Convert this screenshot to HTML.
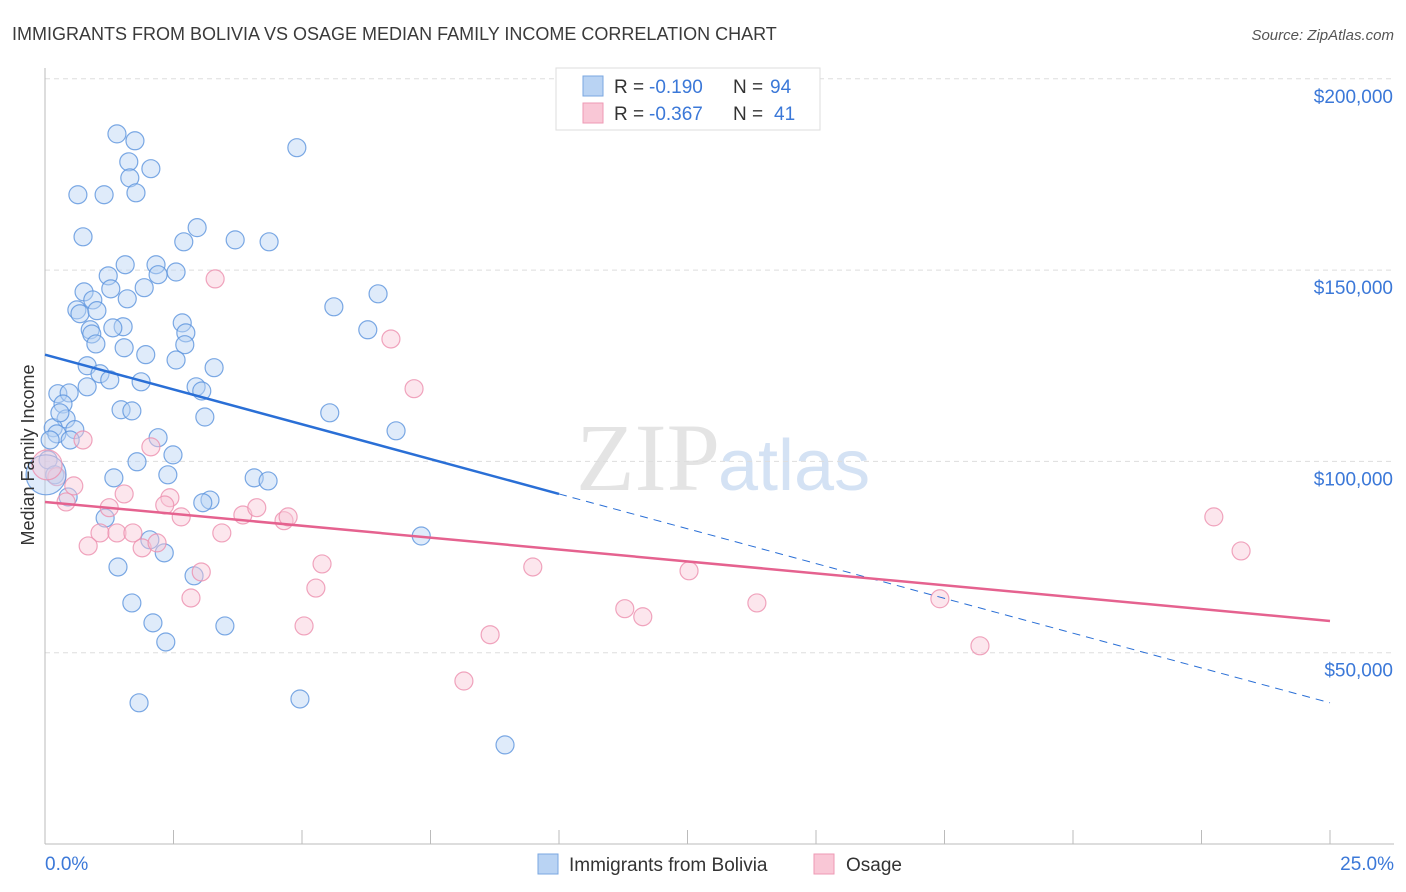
<!DOCTYPE html>
<html><head><meta charset="utf-8"><style>
body{margin:0;background:#fff;font-family:"Liberation Sans",sans-serif;}
svg{display:block}
</style></head><body>
<svg id="chart" width="1406" height="892">
<text x="12" y="40" font-size="18" fill="#3a3a3a">IMMIGRANTS FROM BOLIVIA VS OSAGE MEDIAN FAMILY INCOME CORRELATION CHART</text>
<text x="1394" y="40" font-size="15" fill="#555" text-anchor="end" font-style="italic">Source: ZipAtlas.com</text>
<text x="720" y="490" font-size="96" fill="#e4e4e4" text-anchor="end" font-family="Liberation Serif">ZIP</text>
<text x="718" y="490" font-size="72" fill="#d4e2f4">atlas</text>
<g id="grid"></g><g id="axes"></g><g id="marks"></g>
<text transform="translate(34,455) rotate(-90)" font-size="18" fill="#333" text-anchor="middle">Median Family Income</text>
<g>
<rect x="556" y="68" width="264" height="62" fill="#fff" stroke="#ddd"/>
<rect x="583" y="76" width="20" height="20" fill="#b9d3f3" stroke="#7aa7e0"/>
<rect x="583" y="103" width="20" height="20" fill="#f9c7d6" stroke="#ee9ab4"/>
<text x="614" y="93" font-size="19" fill="#333">R =</text>
<text x="649" y="93" font-size="19" fill="#3b78d8">-0.190</text>
<text x="733" y="93" font-size="19" fill="#333">N =</text>
<text x="770" y="93" font-size="19" fill="#3b78d8">94</text>
<text x="614" y="120" font-size="19" fill="#333">R =</text>
<text x="649" y="120" font-size="19" fill="#3b78d8">-0.367</text>
<text x="733" y="120" font-size="19" fill="#333">N =</text>
<text x="774" y="120" font-size="19" fill="#3b78d8">41</text>
</g>
<g>
<rect x="538" y="854" width="20" height="20" fill="#b9d3f3" stroke="#7aa7e0"/>
<text x="569" y="871" font-size="19" fill="#333">Immigrants from Bolivia</text>
<rect x="814" y="854" width="20" height="20" fill="#f9c7d6" stroke="#ee9ab4"/>
<text x="846" y="871" font-size="19" fill="#333">Osage</text>
</g>
</svg>
<script>
const yTicks=[50000,100000,150000,200000];
const yTickLabels=["$50,000","$100,000","$150,000","$200,000"];
const xTickLabels=["0.0%","25.0%"];
const bluePct=[1.40,1.75,1.63,2.06,1.65,0.64,1.15,1.77,4.90,0.74,2.96,2.70,3.70,4.36,1.56,2.16,2.55,2.20,1.23,1.93,0.76,1.28,1.60,0.93,0.62,0.68,1.01,5.62,6.48,1.52,1.32,0.88,0.91,2.67,2.74,2.72,0.99,1.54,1.96,2.55,6.28,3.29,0.82,1.07,1.26,1.87,2.94,3.05,0.82,0.25,0.47,0.35,0.41,1.48,1.69,5.54,3.11,0.16,0.58,0.23,0.49,2.20,6.83,2.49,1.79,2.39,1.34,4.07,4.34,0.45,3.21,3.07,1.17,7.32,2.04,2.32,1.42,2.90,1.69,2.10,3.50,2.35,1.83,4.96,8.95,0.06,0.19,0.10,0.29];
const blueIncome=[185.6,183.8,178.3,176.5,174.1,169.7,169.7,170.2,182.0,158.7,161.1,157.4,157.9,157.4,151.4,151.4,149.5,148.8,148.5,145.4,144.3,145.1,142.5,142.2,139.6,138.6,139.4,140.4,143.8,135.2,134.9,134.4,133.3,136.2,133.6,130.5,130.7,129.7,127.9,126.5,134.4,124.5,125.0,122.9,121.3,120.8,119.5,118.4,119.5,117.7,117.9,115.0,111.1,113.5,113.2,112.7,111.6,108.8,108.3,107.2,105.6,106.2,108.0,101.7,99.9,96.5,95.7,95.7,94.9,90.7,89.9,89.2,85.2,80.5,79.5,76.1,72.4,70.1,63.0,57.8,57.0,52.8,36.9,37.9,25.9,100.4,96.5,105.6,112.7].map(v=>v*1000);
const pinkPct=[3.31,6.73,7.18,0.74,2.06,0.23,0.56,0.41,2.43,1.54,1.25,2.33,2.65,3.85,4.12,4.65,4.73,1.07,0.84,1.40,1.71,1.89,2.18,3.44,5.39,3.04,5.27,2.84,5.04,9.49,12.53,11.28,11.63,13.85,8.66,8.15,17.41,18.19,22.74,23.27];
const pinkIncome=[147.7,132.0,119.0,105.6,103.8,96.0,93.6,89.4,90.5,91.5,87.9,88.6,85.5,86.0,87.9,84.5,85.5,81.3,77.9,81.3,81.3,77.4,78.7,81.3,73.2,71.1,66.9,64.3,57.0,72.4,71.4,61.5,59.4,63.0,54.7,42.6,64.1,51.8,85.5,76.6].map(v=>v*1000);
const bigPct=[0.02,0.04];
const bigIncome=[96500,99100];
const blueTrend=[127900,36900];
const pinkTrend=[89400,58300];
const NS="http://www.w3.org/2000/svg";
const X=p=>45+p/25*1285;
const Y=v=>844-v/50000*191.3;
function mk(tag,attrs,parent){const e=document.createElementNS(NS,tag);for(const k in attrs)e.setAttribute(k,attrs[k]);document.getElementById(parent).appendChild(e);return e;}
yTicks.forEach((t,i)=>{
 const l=mk('line',{x1:45,x2:1394,y1:Y(t),y2:Y(t),stroke:'#ddd','stroke-dasharray':'5,4'},'grid');
 
 
 const tx=mk('text',{x:1393,y:Y(t)+24,'font-size':19,fill:'#3b78d8','text-anchor':'end'},'axes');tx.textContent=yTickLabels[i];
 
 
});
const ax=mk('line',{x1:45,x2:1394,y1:844,y2:844,stroke:'#bbb'},'axes');


const ay=mk('line',{x1:45,x2:45,y1:68,y2:844,stroke:'#bbb'},'axes');


for(let i=1;i<=10;i++){const t=mk('line',{x1:X(i*2.5),x2:X(i*2.5),y1:830,y2:844,stroke:'#bbb'},'axes');
 
 }
[[0,45,'start'],[25,1394,'end']].forEach((d,i)=>{const t=mk('text',{x:d[1],y:870,'font-size':19,fill:'#3b78d8','text-anchor':d[2]},'axes');t.textContent=xTickLabels[i];
 
 });
function dot(p,v,col,st,r,name){const c=mk('circle',{cx:X(p),cy:Y(v),r:r,fill:col,'fill-opacity':0.45,stroke:st,'stroke-opacity':0.8,'stroke-width':1.2},'marks');
 
 }
bluePct.forEach((p,i)=>dot(p,blueIncome[i],'#b9d3f3','#5b93dd',9,'bolivia-point'));
pinkPct.forEach((p,i)=>dot(p,pinkIncome[i],'#f9c7d6','#ec8fae',9,'osage-point'));
dot(bigPct[0],bigIncome[0],'#b9d3f3','#5b93dd',20,'bolivia-point-large');
dot(bigPct[1],bigIncome[1],'#f9c7d6','#ec8fae',15,'osage-point-large');
const bSlope=(blueTrend[1]-blueTrend[0])/25;
const l1=mk('line',{x1:X(0),y1:Y(blueTrend[0]),x2:X(10),y2:Y(blueTrend[0]+bSlope*10),stroke:'#2a6fd6','stroke-width':2.5},'marks');


const l2=mk('line',{x1:X(10),y1:Y(blueTrend[0]+bSlope*10),x2:X(25),y2:Y(blueTrend[1]),stroke:'#2a6fd6','stroke-width':1,'stroke-dasharray':'8,6'},'marks');


const l3=mk('line',{x1:X(0),y1:Y(pinkTrend[0]),x2:X(25),y2:Y(pinkTrend[1]),stroke:'#e5628f','stroke-width':2.5},'marks');


</script>
</body></html>
